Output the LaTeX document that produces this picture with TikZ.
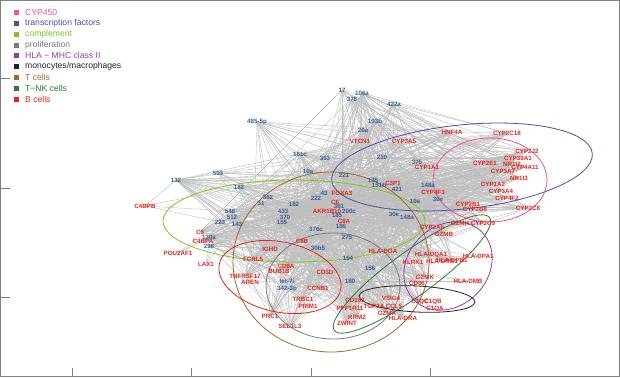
\documentclass[tikz,border=0pt]{standalone}
\usepackage{fontspec}
\setmainfont{Liberation Sans}
\usepackage{xcolor}
\usepackage{tikz}
\usetikzlibrary{backgrounds}
\definecolor{CPink}{HTML}{E8559C}
\definecolor{CBlueTF}{HTML}{4651A8}
\definecolor{CLime}{HTML}{7DC81E}
\definecolor{CGrayPro}{HTML}{7A7A7A}
\definecolor{CPurple}{HTML}{8E3DAE}
\definecolor{CBlack}{HTML}{222222}
\definecolor{CBrown}{HTML}{A36A2C}
\definecolor{CDkGreen}{HTML}{2C7A35}
\definecolor{CRed}{HTML}{E5261E}
\definecolor{CMir}{HTML}{3A5F95}
\definecolor{CEdge}{HTML}{BEBEBE}
\definecolor{CFrame}{HTML}{808080}

\begin{document}
\begin{tikzpicture}[x=1pt, y=-1pt,
  mir/.style={font=\bfseries\fontsize{6.2}{7}\selectfont, text=CMir, inner sep=0pt},
  gene/.style={font=\bfseries\fontsize{6.2}{7}\selectfont, text=CRed, inner sep=0pt},
  edge/.style={CEdge, line width=0.4pt},
  group/.style={line width=0.8pt},
  legendbox/.style={minimum size=5pt, inner sep=0pt},
  legendtext/.style={font=\fontsize{8.6}{9}\selectfont, anchor=west, inner sep=0pt}]
\useasboundingbox (0,0) rectangle (620,377);
\draw[CFrame, line width=1pt] (0.5,0.5) rectangle (619.5,376.5);
\foreach \y in {78,188,297}{ \draw[CFrame, line width=0.8pt] (0,\y) -- (10,\y); }
\foreach \x in {72,191,311,430}{ \draw[CFrame, line width=0.8pt] (\x,377) -- (\x,368); }
% legend
\foreach \c/\t [count=\r] in {CPink/CYP450, CBlueTF/transcription factors, CLime/complement,
    CGrayPro/proliferation, CPurple/{HLA − MHC class II}, CBlack/{monocytes/macrophages},
    CBrown/T cells, CDkGreen/T−NK cells, CRed/B cells}{
  \node[legendbox, fill=\c] (lbox\r) at (16,1.9+10.8*\r) {};
  \node[legendtext, text=\c] (ltext\r) at (25,1.9+10.8*\r) {\t};
}
% miRNAs
\node[mir] (m17) at (342,90) {17};
\node[mir] (m106a) at (362,93) {106a};
\node[mir] (m378) at (352,99) {378};
\node[mir] (m422a) at (394,104) {422a};
\node[mir] (m485) at (257,122) {485-5p};
\node[mir] (m193b) at (375,121) {193b};
\node[mir] (m20a) at (363,130) {20a};
\node[mir] (m181c) at (300,154) {181c};
\node[mir] (m363) at (325,158) {363};
\node[mir] (m210) at (382,157) {210};
\node[mir] (m375) at (417,162) {375};
\node[mir] (m503) at (218,173) {503};
\node[mir] (m10a) at (308,171) {10a};
\node[mir] (m221) at (344,175) {221};
\node[mir] (m132) at (176,180) {132};
\node[mir] (m135) at (373,180) {135};
\node[mir] (m151b) at (379,185) {151b};
\node[mir] (m182a) at (239,187) {182};
\node[mir] (m148a) at (428,185) {148a};
\node[mir] (m421) at (397,189) {421};
\node[mir] (m43) at (324,193) {43};
\node[mir] (m362) at (268,197) {362};
\node[mir] (m222) at (316,198) {222};
\node[mir] (m30e) at (438,199) {30e};
\node[mir] (m10b) at (415,201) {10a};
\node[mir] (m31) at (261,203) {31};
\node[mir] (m182b) at (294,204) {182};
\node[mir] (m361) at (339,206) {361};
\node[mir] (m200c) at (349,211) {200c};
\node[mir] (m433) at (283,211) {433};
\node[mir] (m548) at (230,211) {548};
\node[mir] (m185) at (337,215) {185};
\node[mir] (m512) at (232,217) {512};
\node[mir] (m370) at (285,217) {370};
\node[mir] (m223) at (220,222) {223};
\node[mir] (m155) at (282,222) {155};
\node[mir] (m143) at (237,224) {143};
\node[mir] (m186) at (341,226) {186};
\node[mir] (m376c) at (316,229) {376c};
\node[mir] (m30f) at (394,214) {30e};
\node[mir] (m148b) at (407,217) {148a};
\node[mir] (m275) at (347,237) {275};
\node[mir] (m130a) at (209,237) {130a};
\node[mir] (m296) at (209,246) {296};
\node[mir] (m30b) at (318,248) {30b5};
\node[mir] (m154) at (348,258) {154};
\node[mir] (m156) at (370,268) {156};
\node[mir] (mlet7i) at (287,281) {let-7i};
\node[mir] (m180) at (350,281) {180};
\node[mir] (m342) at (287,289) {342-3p};
% genes
\node[gene] (gHNF4A) at (452,132) {HNF4A};
\node[gene] (gCYP2C18) at (507,133) {CYP2C18};
\node[gene] (gCYP2J2) at (527,151) {CYP2J2};
\node[gene] (gCYP39A1) at (518,158) {CYP39A1};
\node[gene] (gNR1I2) at (512,164) {NR1I2};
\node[gene] (gCYP4A11) at (525,167) {CYP4A11};
\node[gene] (gCYP2E1) at (485,163) {CYP2E1};
\node[gene] (gCYP3A7) at (503,171) {CYP3A7};
\node[gene] (gNR1I3) at (519,178) {NR1I3};
\node[gene] (gCYP1A2) at (493,184) {CYP1A2};
\node[gene] (gCYP3A4) at (501,191) {CYP3A4};
\node[gene] (gCYP4F2) at (507,198) {CYP4F2};
\node[gene] (gCYP2B1) at (468,204) {CYP2B1};
\node[gene] (gCYP2B6) at (475,209) {CYP2B6};
\node[gene] (gCYP2C8) at (528,208) {CYP2C8};
\node[gene] (gCYP1A1) at (427,167) {CYP1A1};
\node[gene] (gCYP3A5) at (404,141) {CYP3A5};
\node[gene] (gVTCN1) at (360,141) {VTCN1};
\node[gene] (gC3P1) at (393,183) {C3P1};
\node[gene] (gCYP4F3) at (433,192) {CYP4F3};
\node[gene] (gFOXA3) at (342,193) {FOXA3};
\node[gene] (gC6) at (335,202) {C6};
\node[gene] (gAKR1B10) at (327,211) {AKR1B10};
\node[gene] (gC8A) at (344,221) {C8A};
\node[gene] (gC4BPB) at (145,206) {C4BPB};
\node[gene] (gC5) at (200,232) {C5};
\node[gene] (gC4BPA) at (203,241) {C4BPA};
\node[gene] (gPOU2AF1) at (178,253) {POU2AF1};
\node[gene] (gLAX1) at (206,264) {LAX1};
\node[gene] (gIGHD) at (270,249) {IGHD};
\node[gene] (gC8B) at (302,241) {C8B};
\node[gene] (gFCRL5) at (253,259) {FCRL5};
\node[gene] (gTNFRSF17) at (245,276) {TNFRSF17};
\node[gene] (gAREN) at (250,282) {AREN};
\node[gene] (gCD8A) at (286,266) {CD8A};
\node[gene] (gBUB1B) at (279,271) {BUB1B};
\node[gene] (gCD3D) at (325,272) {CD3D};
\node[gene] (gCCNB1) at (318,288) {CCNB1};
\node[gene] (gTRBC1) at (303,299) {TRBC1};
\node[gene] (gPRIM1) at (308,306) {PRIM1};
\node[gene] (gPRC1) at (270,316) {PRC1};
\node[gene] (gSEL1L3) at (290,326) {SEL1L3};
\node[gene] (gCD163) at (355,300) {CD163};
\node[gene] (gPPP1R11) at (350,308) {PPP1R11};
\node[gene] (gRRM2) at (357,317) {RRM2};
\node[gene] (gZWINT) at (347,323) {ZWINT};
\node[gene] (gTOP2A) at (374,306) {TOP2A};
\node[gene] (gCCL5) at (394,306) {CCL5};
\node[gene] (gGZMA) at (387,313) {GZMA};
\node[gene] (gHLADRA) at (403,318) {HLA-DRA};
\node[gene] (gVSIG4) at (391,298) {VSIG4};
\node[gene] (gC1QC) at (420,302) {C1QC};
\node[gene] (gC1QB) at (433,302) {C1QB};
\node[gene] (gC1QA) at (435,309) {C1QA};
\node[gene] (gCD86) at (417,283) {CD86};
\node[gene] (gGZMK) at (425,277) {GZMK};
\node[gene] (gKLRK1) at (413,262) {KLRK1};
\node[gene] (gHLADQA1) at (431,255) {HLA-DQA1};
\node[gene] (gHLADRB1) at (442,261) {HLA-DRB1};
\node[gene] (gHLADPB1) at (452,260) {HLA-DPB1};
\node[gene] (gHLADPA1) at (478,256) {HLA-DPA1};
\node[gene] (gHLADMB) at (468,281) {HLA-DMB};
\node[gene] (gHLADOA) at (383,251) {HLA-DOA};
\node[gene] (gGZMB) at (444,234) {GZMB};
\node[gene] (gGZMH) at (460,223) {GZMH};
\node[gene] (gCYP2C9) at (483,223) {CYP2C9};
\node[gene] (gCYP2A6) at (432,227) {CYP2A6};
\begin{scope}[on background layer]
% interactions
\foreach \m [count=\i] in {m17,m106a,m378,m422a,m485,m193b,m20a,m181c,m363,m210,m375,m503,m10a,
    m221,m132,m135,m151b,m182a,m148a,m421,m43,m362,m222,m30e,m10b,m31,m182b,m361,m200c,m433,
    m548,m185,m512,m370,m223,m155,m143,m186,m376c,m30f,m148b,m275,m130a,m296,m30b,m154,m156,
    mlet7i,m180,m342}{
  \foreach \g [count=\j] in {gHNF4A,gCYP2C18,gCYP2J2,gCYP39A1,gNR1I2,gCYP4A11,gCYP2E1,gCYP3A7,
      gNR1I3,gCYP1A2,gCYP3A4,gCYP4F2,gCYP2B1,gCYP2B6,gCYP2C8,gCYP1A1,gCYP3A5,gVTCN1,gC3P1,
      gCYP4F3,gFOXA3,gC6,gAKR1B10,gC8A,gC5,gC4BPA,gIGHD,gC8B,gFCRL5,gTNFRSF17,gCD8A,gBUB1B,
      gCD3D,gCCNB1,gTRBC1,gCD163,gRRM2,gZWINT,gTOP2A,gGZMA,gHLADRA,gVSIG4,gC1QC,gCD86,gGZMK,
      gKLRK1,gHLADQA1,gHLADPB1,gHLADOA,gGZMB,gGZMH,gCYP2C9,gCYP2A6,gPPP1R11,gSEL1L3,gPRC1}{
    \pgfmathtruncatemacro\k{mod(\i*\j*3+\i*5+\j*\j,13)}
    \ifnum\k<5 \draw[edge] (\m.center) -- (\g.center); \fi
  }
}
\foreach \a/\b in {gC4BPB/m132, gC4BPB/m182a, gC4BPB/m548, gC4BPB/m223, gPOU2AF1/m130a,
    gPOU2AF1/m223, gPOU2AF1/m143, gLAX1/m223, gLAX1/m143, gLAX1/m296, gHLADPA1/m148b,
    gHLADPA1/m30f, gHLADPA1/m154, gHLADPA1/m275, gHLADMB/m154, gHLADMB/m156, gHLADMB/m180,
    gC1QA/m156, gC1QB/m180, gCCL5/m154, gPRIM1/m342, gAREN/mlet7i, gAREN/m143, gHLADRB1/m275,
    gHLADRB1/m30f}{
  \draw[edge] (\a.center) -- (\b.center);
}
% cell-type groups
\draw[group, CBlueTF, rotate around={6:(462,167)}] (462,167) ellipse [x radius=131, y radius=42];
\draw[group, CPink] (490,180) ellipse [x radius=57, y radius=42];
\draw[group, CLime] (294,221) ellipse [x radius=131, y radius=41];
\draw[group, CBrown] (331,262) ellipse [x radius=98, y radius=90];
\draw[group, CGrayPro] (333,286) ellipse [x radius=67, y radius=53];
\draw[group, CRed, rotate around={-12:(280,277)}] (280,277) ellipse [x radius=62, y radius=35];
\draw[group, CDkGreen, rotate around={36:(412,274)}] (412,274) ellipse [x radius=96, y radius=22];
\draw[group, CPurple, rotate around={45:(448,266)}] (448,266) ellipse [x radius=48, y radius=40];
\draw[group, CBlack, rotate around={-3:(417,299)}] (417,299) ellipse [x radius=58, y radius=13];
\end{scope}
\end{tikzpicture}
\end{document}
